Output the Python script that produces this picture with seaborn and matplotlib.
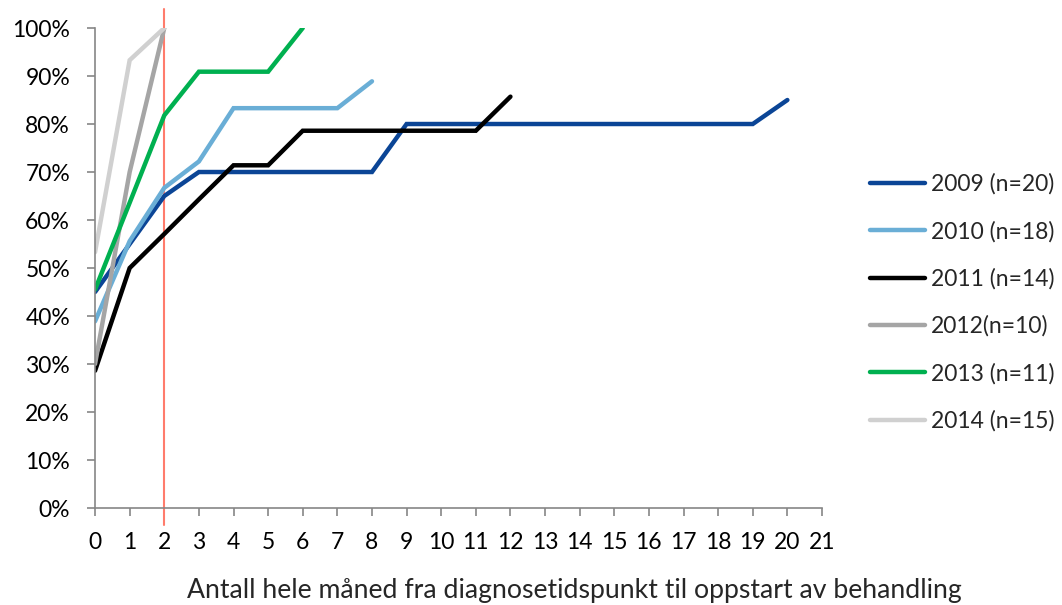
import numpy as np
import pandas as pd
import matplotlib
matplotlib.use("Agg")
import matplotlib.pyplot as plt
import seaborn as sns
from matplotlib.lines import Line2D

# Cumulative share of patients started on treatment, by whole months since diagnosis
series_labels = ["2009 (n=20)", "2010 (n=18)", "2011 (n=14)", "2012(n=10)", "2013 (n=11)", "2014 (n=15)"]

y2009 = [45, 55, 65, 70, 70, 70, 70, 70, 70, 80, 80, 80, 80, 80, 80, 80, 80, 80, 80, 80, 85]
y2010 = [38.9, 55.6, 66.7, 72.2, 83.3, 83.3, 83.3, 83.3, 88.9]
y2011 = [28.6, 50.0, 57.1, 64.3, 71.4, 71.4, 78.6, 78.6, 78.6, 78.6, 78.6, 78.6, 85.7]
y2012 = [30, 70, 100]
y2013 = [45.5, 63.6, 81.8, 90.9, 90.9, 90.9, 100]
y2014 = [53.3, 93.3, 100]

series_values = [y2009, y2010, y2011, y2012, y2013, y2014]
colors = ["#0B4596", "#6AAED6", "#000000", "#A5A5A5", "#00B050", "#D0D0D0"]

x_ticks = list(range(0, 22))
marker_month = 2

rows = []
for lab, vals in zip(series_labels, series_values):
    for m, v in enumerate(vals):
        rows.append({"month": m, "share": v / 100.0, "series": lab})
df = pd.DataFrame(rows)

sns.set_theme(style="white")
plt.rcParams["font.family"] = ["Lato", "DejaVu Sans"]

fig = plt.figure(figsize=(10.62, 6.05), dpi=100)
ax = fig.add_axes([0.0895, 0.1603, 0.6845, 0.7934])

sns.lineplot(data=df, x="month", y="share", hue="series", hue_order=series_labels,
             palette=colors, linewidth=3.2, ax=ax, legend=False,
             solid_capstyle="round", solid_joinstyle="miter")

# vertical reference line at month 2
ax.plot([marker_month, marker_month], [-0.035, 1.04], color="#FF7C6C", linewidth=1.5,
        clip_on=False, zorder=1)

ax.set_xlim(0, 21)
ax.set_ylim(0, 1.0)
ax.set_xticks(x_ticks)
ax.set_xticklabels([str(t) for t in x_ticks])
y_ticks = np.arange(0, 1.01, 0.1)
ax.set_yticks(y_ticks)
ax.set_yticklabels([f"{int(round(t * 100))}%" for t in y_ticks])

for side in ["top", "right"]:
    ax.spines[side].set_visible(False)
for side in ["left", "bottom"]:
    ax.spines[side].set_color("#868686")
    ax.spines[side].set_linewidth(1.2)

ax.tick_params(axis="both", which="major", direction="out", length=6, width=1.2,
               color="#868686", labelsize=16.5, labelcolor="black")
ax.tick_params(axis="x", pad=11, bottom=True)
ax.tick_params(axis="y", pad=12, left=True)

ax.set_xlabel("")
ax.set_ylabel("")
fig.text(0.541, 0.004, "Antall hele måned fra diagnosetidspunkt til oppstart av behandling",
         fontsize=19.2, ha="center", va="bottom")

handles = [Line2D([0], [0], color=c, linewidth=3.2, solid_capstyle="round") for c in colors]
fig.legend(handles, series_labels, loc="center left", bbox_to_anchor=(0.819, 0.5),
           frameon=False, fontsize=16.5, handlelength=2.4, handletextpad=0.25,
           labelspacing=1.13, borderpad=0, borderaxespad=0)

fig.savefig("out.png", dpi=100)
